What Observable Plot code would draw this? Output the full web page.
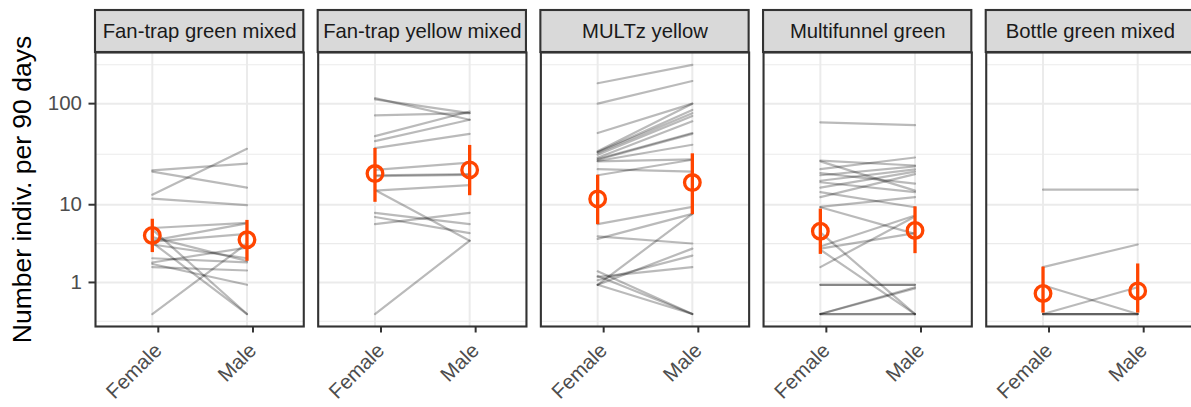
<!DOCTYPE html>
<html>
<head>
<meta charset="utf-8">
<script src="https://cdn.jsdelivr.net/npm/d3@7"></script>
<script src="https://cdn.jsdelivr.net/npm/@observablehq/plot@0.6"></script>
<style>
  html, body { margin: 0; padding: 0; background: #fff; }
</style>
</head>
<body>
<div id="chart"></div>
<script>
// Trap types (one panel each) and the two sexes compared within each trap
const traps = ["Fan-trap green mixed", "Fan-trap yellow mixed", "MULTz yellow", "Multifunnel green", "Bottle green mixed"];
const sexes = ["Female", "Male"];

// Paired counts per species: females and males caught (individuals per 90 days)
const fanGreenFemale = [12.7, 22.4, 21.7, 11.6, 5.6, 0, 5.4, 3.8, 4.0, 3.9, 3.6, 2.4, 2.1, 1.8, 2.0, 4.4];
const fanGreenMale   = [36.5, 26.1, 15.0, 9.9, 6.4, 3.7, 0, 0, 6.3, 4.8, 2.4, 2.1, 3.3, 1.6, 0.9, 2.2];

const fanYellowFemale = [113, 110, 77, 48.5, 43.4, 37, 22.6, 20.0, 19.6, 14.0, 8.2, 7.4, 6.2, 14.2, 0];
const fanYellowMale   = [70, 81, 81, 84, 70, 51, 26.7, 20.5, 20.2, 15.9, 6.2, 4.9, 8.2, 4.0, 4.0];

const multzFemale = [157, 100, 52, 34.5, 34, 33.5, 32, 29.8, 29, 28.5, 27.7, 27.5, 23, 20, 6.2, 4.2, 4.5, 0.9, 0.9, 1.1, 1.26, 1.55, 0.9, 1.3];
const multzMale   = [235, 165, 100, 100, 87, 81, 76, 67.6, 52, 51, 40, 28.8, 21.7, 28.5, 9.5, 8.0, 3.7, 8.0, 3.2, 2.6, 1.8, 0, 0, 0];

const multifunnelFemale = [66, 28, 27.5, 23, 21, 20, 17.6, 17, 15, 13.5, 12, 9.5, 9.4, 3.4, 3.2, 1.8, 3.1, 5, 0.9, 0.9, 0, 0, 0, 0];
const multifunnelMale   = [62, 25, 14, 30, 16.5, 24.5, 22.9, 13.5, 21.7, 9.4, 20.5, 12, 4.8, 7.7, 4.9, 7.5, 0, 0, 0.9, 0.9, 0, 0, 0.8, 0.75];

const bottleFemale = [14.3, 1.8, 0.88, 0, 0, 0, 0];
const bottleMale   = [14.3, 3.6, 0, 0.8, 0, 0, 0];

// Mean and interval per trap and sex
const meanFemale = [4.6, 20.8, 11.5, 5.15, 0.57];
const lowFemale  = [2.85, 10.6, 6.1, 2.7, 0.02];
const highFemale = [7.0, 36.8, 20.0, 9.0, 1.8];
const meanMale   = [4.1, 22.6, 16.9, 5.25, 0.66];
const lowMale    = [2.18, 12.4, 7.85, 2.76, 0.02];
const highMale   = [6.8, 39.4, 32.6, 9.5, 2.0];

// y-axis breaks (shown on a log(1 + x) scale)
const yBreaks = [1, 10, 100];

const log1p10 = v => Math.log10(v + 1);

const pairs = [
  [fanGreenFemale, fanGreenMale],
  [fanYellowFemale, fanYellowMale],
  [multzFemale, multzMale],
  [multifunnelFemale, multifunnelMale],
  [bottleFemale, bottleMale]
];

const rows = pairs.flatMap(([females, males], p) =>
  females.flatMap((f, i) => [
    {trap: traps[p], id: `${p}-${i}`, sex: "Female", value: f},
    {trap: traps[p], id: `${p}-${i}`, sex: "Male", value: males[i]}
  ])
);

const summary = traps.flatMap((trap, p) => [
  {trap, sex: "Female", mean: meanFemale[p], lo: lowFemale[p], hi: highFemale[p]},
  {trap, sex: "Male", mean: meanMale[p], lo: lowMale[p], hi: highMale[p]}
]);

// Shared y domain in transformed units, padded by 5% on each side
const allT = rows.map(d => log1p10(d.value))
  .concat(summary.flatMap(d => [log1p10(d.lo), log1p10(d.hi)]));
const [tMin, tMax] = d3.extent(allT);
const pad = (tMax - tMin) * 0.05;
const yDomain = [tMin - pad, tMax + pad];

// Major ticks and the minor grid lines halfway between them (extended one step past the ends)
const majorT = yBreaks.map(log1p10);
const step = majorT[1] - majorT[0];
const ext = [majorT[0] - step, ...majorT, majorT[majorT.length - 1] + step];
const minorT = d3.pairs(ext).map(([a, b]) => (a + b) / 2)
  .filter(t => t >= yDomain[0] && t <= yDomain[1]);

const accent = "#ff4500";
const border = "#333333";
const grid = "#ebebeb";

const chart = Plot.plot({
  width: 1191,
  height: 407,
  marginLeft: 95,
  marginRight: -3,
  marginTop: 52,
  marginBottom: 81,
  style: {fontFamily: "'Liberation Sans', Arial, Helvetica, sans-serif", background: "#fff", overflow: "visible"},
  fx: {domain: traps, axis: null, paddingInner: 0.0647, paddingOuter: 0, round: false},
  x: {domain: sexes, padding: 0.6, round: false},
  y: {domain: yDomain},
  marks: [
    Plot.ruleY(minorT, {stroke: grid, strokeWidth: 1.1}),
    Plot.ruleY(majorT, {stroke: grid, strokeWidth: 2}),
    Plot.ruleX(sexes, {x: d => d, stroke: grid, strokeWidth: 2}),
    Plot.line(rows, {
      fx: "trap", x: "sex", y: d => log1p10(d.value), z: "id",
      stroke: "#000", strokeOpacity: 0.27, strokeWidth: 2.2
    }),
    Plot.ruleX(summary, {
      fx: "trap", x: "sex", y1: d => log1p10(d.lo), y2: d => log1p10(d.hi),
      stroke: accent, strokeWidth: 3.3
    }),
    Plot.dot(summary, {
      fx: "trap", x: "sex", y: d => log1p10(d.mean),
      r: 7.8, stroke: accent, strokeWidth: 3.3, fill: "none"
    }),
    Plot.frame({stroke: border, strokeWidth: 2.1}),
    // facet strips above each panel
    Plot.rect(traps, {
      fx: d => d, y1: () => yDomain[1], y2: () => yDomain[1], insetTop: -42,
      fill: "#d9d9d9", stroke: border, strokeWidth: 2.1
    }),
    Plot.text(traps, {
      fx: d => d, text: d => d, frameAnchor: "top", lineAnchor: "middle", dy: -21,
      fontSize: 20.3, fill: "#1a1a1a"
    }),
    Plot.axisX({
      tickRotate: -45, fontSize: 20.5, tickSize: 6.5, tickPadding: 14, dx: 6,
      stroke: border, fill: "#4d4d4d", strokeWidth: 2, label: null
    }),
    Plot.axisY({
      ticks: majorT, tickFormat: t => String(Math.round(10 ** t - 1)),
      fontSize: 20.5, tickSize: 6.5, tickPadding: 7,
      stroke: border, fill: "#4d4d4d", strokeWidth: 2, label: null
    }),
    Plot.text([traps[0]], {
      fx: d => d, text: () => "Number indiv. per 90 days",
      frameAnchor: "left", textAnchor: "middle", rotate: -90, dx: -73,
      fontSize: 26.5, fill: "#000"
    })
  ]
});

document.getElementById("chart").appendChild(chart);
</script>
</body>
</html>
